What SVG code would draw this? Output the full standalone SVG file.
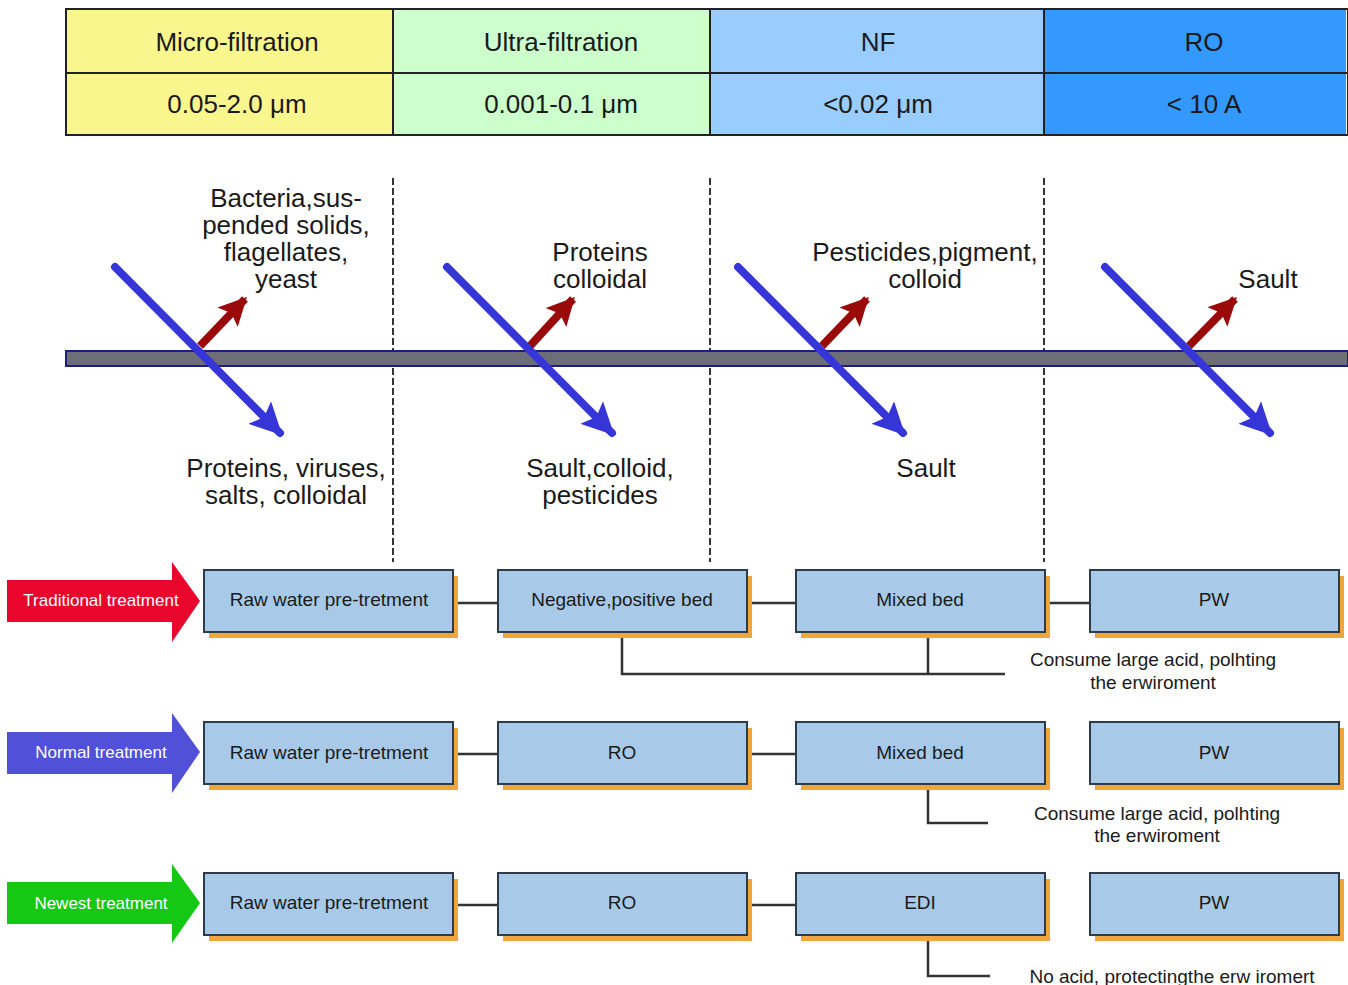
<svg xmlns="http://www.w3.org/2000/svg" width="1348" height="985" viewBox="0 0 1348 985">
<defs>
<style>
.t{font-family:"Liberation Sans",Arial,sans-serif;fill:#1a1a1a;text-anchor:middle}
.th{font-size:26px}
.ml{font-size:26px}
.bx{fill:#A8CAE8;stroke:#2E3B4A;stroke-width:2}
.sh{fill:#F0A63C}
.bt{font-size:19px}
.nt{font-size:19px}
.lt{font-family:"Liberation Sans",Arial,sans-serif;font-size:17px;fill:#fff;text-anchor:middle}
.conn{stroke:#333;stroke-width:2.5;fill:none}
.dash{stroke:#333;stroke-width:2;stroke-dasharray:7,3;fill:none}
.blue{stroke:#3535D8;stroke-width:8;stroke-linecap:round;fill:none}
.red{stroke:#9A0A0A;stroke-width:8;fill:none}
</style>
<marker id="bh" viewBox="0 0 10 10" refX="9" refY="5" markerWidth="4" markerHeight="4" markerUnits="strokeWidth" orient="auto">
<path d="M0,0 L10,5 L0,10 L2,5 z" fill="#3535D8"/>
</marker>
<marker id="rh" viewBox="0 0 10 10" refX="9" refY="5" markerWidth="3.5" markerHeight="3.5" markerUnits="strokeWidth" orient="auto">
<path d="M0,0 L10,5 L0,10 L2,5 z" fill="#9A0A0A"/>
</marker>
</defs>
<rect width="1348" height="985" fill="#fff"/>

<g id="table">
<rect x="66" y="9" width="327" height="126" fill="#FAF68E"/>
<rect x="393" y="9" width="317" height="126" fill="#CCFFCC"/>
<rect x="710" y="9" width="334" height="126" fill="#99CCFF"/>
<rect x="1044" y="9" width="302" height="126" fill="#3399FF"/>
<rect x="66" y="9" width="1282" height="126" fill="none" stroke="#222" stroke-width="2"/>
<line x1="66" y1="73" x2="1348" y2="73" stroke="#222" stroke-width="2"/>
<line x1="393" y1="9" x2="393" y2="135" stroke="#222" stroke-width="2"/>
<line x1="710" y1="9" x2="710" y2="135" stroke="#222" stroke-width="2"/>
<line x1="1044" y1="9" x2="1044" y2="135" stroke="#222" stroke-width="2"/>
<text class="t th" x="237" y="51">Micro-filtration</text>
<text class="t th" x="561" y="51">Ultra-filtration</text>
<text class="t th" x="878" y="51">NF</text>
<text class="t th" x="1204" y="51">RO</text>
<text class="t th" x="237" y="113">0.05-2.0 μm</text>
<text class="t th" x="561" y="113">0.001-0.1 μm</text>
<text class="t th" x="878" y="113">&lt;0.02 μm</text>
<text class="t th" x="1204" y="113">&lt; 10 A</text>
</g>

<g id="membrane">
<line class="dash" x1="393" y1="178" x2="393" y2="562"/>
<line class="dash" x1="710" y1="178" x2="710" y2="562"/>
<line class="dash" x1="1044" y1="178" x2="1044" y2="562"/>
<rect x="66" y="351" width="1282" height="15" fill="#6E6E78" stroke="#1E1E80" stroke-width="2"/>
</g>

<g id="flow-arrows">
<line class="red" x1="200" y1="346" x2="245" y2="299" marker-end="url(#rh)"/>
<line class="blue" x1="115" y1="267" x2="280" y2="433" marker-end="url(#bh)"/>
<line class="red" x1="530" y1="346" x2="573" y2="299" marker-end="url(#rh)"/>
<line class="blue" x1="447" y1="267" x2="612" y2="433" marker-end="url(#bh)"/>
<line class="red" x1="822" y1="346" x2="867" y2="299" marker-end="url(#rh)"/>
<line class="blue" x1="738" y1="267" x2="903" y2="433" marker-end="url(#bh)"/>
<line class="red" x1="1189" y1="346" x2="1235" y2="299" marker-end="url(#rh)"/>
<line class="blue" x1="1105" y1="267" x2="1270" y2="433" marker-end="url(#bh)"/>
</g>

<g id="labels">
<text class="t ml" x="286" y="207">Bacteria,sus-</text>
<text class="t ml" x="286" y="234">pended solids,</text>
<text class="t ml" x="286" y="261">flagellates,</text>
<text class="t ml" x="286" y="288">yeast</text>
<text class="t ml" x="286" y="477">Proteins, viruses,</text>
<text class="t ml" x="286" y="504">salts, colloidal</text>
<text class="t ml" x="600" y="261">Proteins</text>
<text class="t ml" x="600" y="288">colloidal</text>
<text class="t ml" x="600" y="477">Sault,colloid,</text>
<text class="t ml" x="600" y="504">pesticides</text>
<text class="t ml" x="925" y="261">Pesticides,pigment,</text>
<text class="t ml" x="925" y="288">colloid</text>
<text class="t ml" x="926" y="477">Sault</text>
<text class="t ml" x="1268" y="288">Sault</text>
</g>

<g id="connectors">
<line class="conn" x1="453" y1="603" x2="498" y2="603"/>
<line class="conn" x1="747" y1="603" x2="796" y2="603"/>
<line class="conn" x1="1045" y1="603" x2="1090" y2="603"/>
<polyline class="conn" points="622,632 622,674 1005,674"/>
<line class="conn" x1="928" y1="632" x2="928" y2="674"/>
<line class="conn" x1="453" y1="754" x2="498" y2="754"/>
<line class="conn" x1="747" y1="754" x2="796" y2="754"/>
<polyline class="conn" points="928,784 928,823 988,823"/>
<line class="conn" x1="453" y1="905" x2="498" y2="905"/>
<line class="conn" x1="747" y1="905" x2="796" y2="905"/>
<polyline class="conn" points="928,935 928,976 990,976"/>
</g>

<g id="arrow-traditional">
<path d="M7,580 L172,580 L172,562 L200,601 L172,642 L172,622 L7,622 z" fill="#E8062C"/>
<text class="lt" x="101" y="606">Traditional treatment</text>
</g>
<g id="arrow-normal">
<path d="M7,732 L172,732 L172,713 L200,752 L172,793 L172,774 L7,774 z" fill="#5050D8"/>
<text class="lt" x="101" y="758">Normal treatment</text>
</g>
<g id="arrow-newest">
<path d="M7,882 L172,882 L172,864 L200,903 L172,943 L172,924 L7,924 z" fill="#14C814"/>
<text class="lt" x="101" y="909">Newest treatment</text>
</g>

<g id="r1-raw"><rect class="sh" x="209" y="576" width="249" height="62"/><rect class="bx" x="204" y="570" width="249" height="62"/><text class="t bt" x="329" y="606">Raw water pre-tretment</text></g>
<g id="r1-negpos"><rect class="sh" x="503" y="576" width="249" height="62"/><rect class="bx" x="498" y="570" width="249" height="62"/><text class="t bt" x="622" y="606">Negative,positive bed</text></g>
<g id="r1-mixed"><rect class="sh" x="801" y="576" width="249" height="62"/><rect class="bx" x="796" y="570" width="249" height="62"/><text class="t bt" x="920" y="606">Mixed bed</text></g>
<g id="r1-pw"><rect class="sh" x="1095" y="576" width="249" height="62"/><rect class="bx" x="1090" y="570" width="249" height="62"/><text class="t bt" x="1214" y="606">PW</text></g>

<g id="r2-raw"><rect class="sh" x="209" y="728" width="249" height="62"/><rect class="bx" x="204" y="722" width="249" height="62"/><text class="t bt" x="329" y="759">Raw water pre-tretment</text></g>
<g id="r2-ro"><rect class="sh" x="503" y="728" width="249" height="62"/><rect class="bx" x="498" y="722" width="249" height="62"/><text class="t bt" x="622" y="759">RO</text></g>
<g id="r2-mixed"><rect class="sh" x="801" y="728" width="249" height="62"/><rect class="bx" x="796" y="722" width="249" height="62"/><text class="t bt" x="920" y="759">Mixed bed</text></g>
<g id="r2-pw"><rect class="sh" x="1095" y="728" width="249" height="62"/><rect class="bx" x="1090" y="722" width="249" height="62"/><text class="t bt" x="1214" y="759">PW</text></g>

<g id="r3-raw"><rect class="sh" x="209" y="879" width="249" height="62"/><rect class="bx" x="204" y="873" width="249" height="62"/><text class="t bt" x="329" y="909">Raw water pre-tretment</text></g>
<g id="r3-ro"><rect class="sh" x="503" y="879" width="249" height="62"/><rect class="bx" x="498" y="873" width="249" height="62"/><text class="t bt" x="622" y="909">RO</text></g>
<g id="r3-edi"><rect class="sh" x="801" y="879" width="249" height="62"/><rect class="bx" x="796" y="873" width="249" height="62"/><text class="t bt" x="920" y="909">EDI</text></g>
<g id="r3-pw"><rect class="sh" x="1095" y="879" width="249" height="62"/><rect class="bx" x="1090" y="873" width="249" height="62"/><text class="t bt" x="1214" y="909">PW</text></g>

<g id="notes">
<text class="t nt" x="1153" y="666">Consume large acid, polhting</text>
<text class="t nt" x="1153" y="689">the erwiroment</text>
<text class="t nt" x="1157" y="820">Consume large acid, polhting</text>
<text class="t nt" x="1157" y="842">the erwiroment</text>
<text class="t nt" x="1172" y="983">No acid, protectingthe erw iromert</text>
</g>
</svg>
